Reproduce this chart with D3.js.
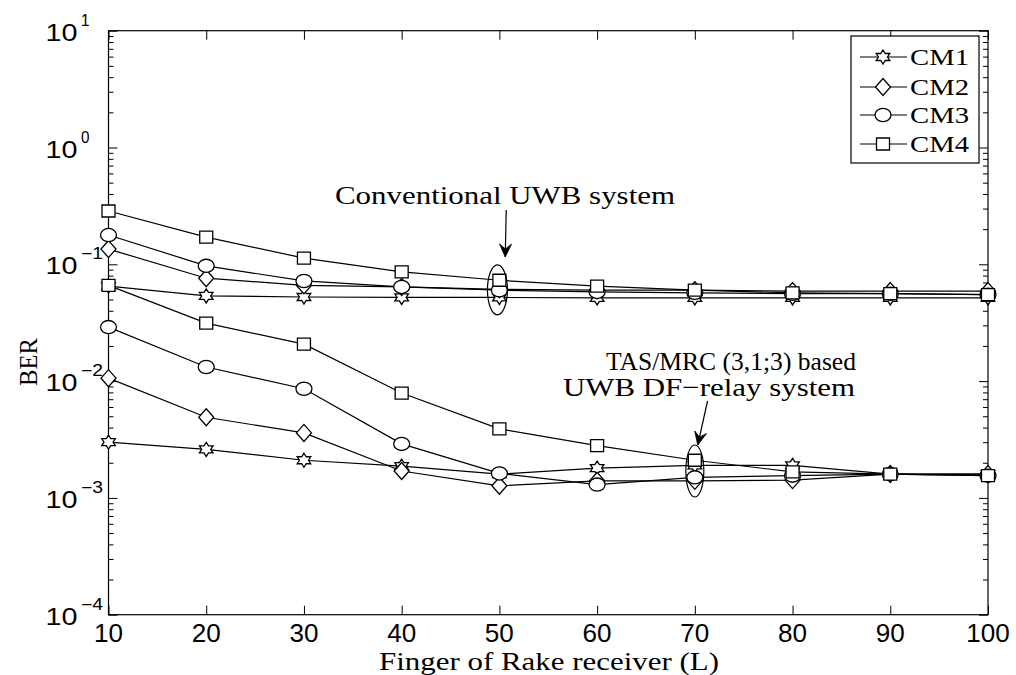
<!DOCTYPE html>
<html><head><meta charset="utf-8">
<script src="https://cdn.jsdelivr.net/npm/d3@7"></script>
<style>body{margin:0;background:#fff}</style>
</head><body>
<svg id="c" width="1016" height="675"></svg>
<script>
// ---- data ----
const fingers = [10, 20, 30, 40, 50, 60, 70, 80, 90, 100];
const seriesNames = ["CM1", "CM2", "CM3", "CM4"];
const markerKinds = ["hexagram", "diamond", "circle", "square"];
// Conventional UWB system
const convCM1 = [0.065, 0.0536, 0.0525, 0.052, 0.052, 0.0515, 0.0515, 0.0515, 0.0515, 0.0515];
const convCM2 = [0.135, 0.076, 0.066, 0.064, 0.061, 0.060, 0.060, 0.059, 0.059, 0.059];
const convCM3 = [0.178, 0.097, 0.072, 0.064, 0.060, 0.058, 0.057, 0.056, 0.056, 0.055];
const convCM4 = [0.286, 0.171, 0.113, 0.086, 0.073, 0.065, 0.060, 0.057, 0.056, 0.055];
// TAS/MRC (3,1;3) based UWB DF-relay system
const relayCM1 = [0.0030, 0.0026, 0.0021, 0.00187, 0.0016, 0.0018, 0.0019, 0.0019, 0.0016, 0.0016];
const relayCM2 = [0.0106, 0.0049, 0.0036, 0.0017, 0.00127, 0.0014, 0.0014, 0.00142, 0.0016, 0.0016];
const relayCM3 = [0.029, 0.0132, 0.0086, 0.0029, 0.00162, 0.0013, 0.0015, 0.00155, 0.0016, 0.00155];
const relayCM4 = [0.066, 0.0314, 0.0207, 0.0079, 0.0039, 0.0028, 0.0021, 0.00167, 0.0016, 0.00155];
const xTickLabels = ["10", "20", "30", "40", "50", "60", "70", "80", "90", "100"];
const yTickExponents = [1, 0, -1, -2, -3, -4];
const annotationConv = ["Conventional UWB system"];
const annotationRelay = ["TAS/MRC (3,1;3)  based", "UWB DF\u2212relay system"];
const xAxisTitle = "Finger of Rake receiver (L)";
const yAxisTitle = "BER";

// ---- layout ----
const L = 108.5, R = 988, T = 30.7, B = 614.7;
const svg = d3.select("#c");
svg.append("rect").attr("width", 1016).attr("height", 675).attr("fill", "#fff");
const x = d3.scaleLinear().domain([10, 100]).range([L, R]);
const y = d3.scaleLog().domain([1e-4, 1e1]).range([B, T]);

const series = [];
const convArr = [convCM1, convCM2, convCM3, convCM4];
const relayArr = [relayCM1, relayCM2, relayCM3, relayCM4];
seriesNames.forEach((n, i) => {
  series.push({ name: n, kind: markerKinds[i], vals: convArr[i] });
  series.push({ name: n, kind: markerKinds[i], vals: relayArr[i] });
});

// ---- axes box & ticks ----
const ax = svg.append("g");
const sans = "'Liberation Sans', Arial, Helvetica, sans-serif";
const serif = "'Liberation Serif', 'Times New Roman', serif";

const xAxisB = d3.axisBottom(x).tickValues(fingers).tickSize(-9).tickFormat("");
const xAxisT = d3.axisTop(x).tickValues(fingers).tickSize(-9).tickFormat("");
ax.append("g").attr("transform", `translate(0,${B})`).call(xAxisB);
ax.append("g").attr("transform", `translate(0,${T})`).call(xAxisT);
const majors = yTickExponents.map(e => Math.pow(10, e));
const minors = [];
for (let e = -4; e < 1; e++) for (let m = 2; m <= 9; m++) minors.push(m * Math.pow(10, e));
[[d3.axisLeft, L], [d3.axisRight, R]].forEach(([f, px]) => {
  ax.append("g").attr("transform", `translate(${px},0)`).call(f(y).tickValues(majors).tickSize(-9).tickFormat(""));
  ax.append("g").attr("transform", `translate(${px},0)`).call(f(y).tickValues(minors).tickSize(-5).tickFormat(""));
});
ax.selectAll(".domain").remove();
ax.selectAll("line").attr("stroke", "#000").attr("stroke-width", 1);
ax.append("rect").attr("x", L).attr("y", T).attr("width", R - L).attr("height", B - T)
  .attr("fill", "none").attr("stroke", "#000").attr("stroke-width", 1.2);

// x tick labels
svg.append("g").selectAll("text").data(fingers).join("text")
  .attr("x", d => x(d)).attr("y", 642).attr("text-anchor", "middle")
  .attr("font-family", sans).attr("font-size", 26)
  .attr("textLength", (d, i) => xTickLabels[i].length * 14.5).attr("lengthAdjust", "spacingAndGlyphs")
  .text((d, i) => xTickLabels[i]);

// y tick labels
const yl = svg.append("g");
yTickExponents.forEach(e => {
  const py = y(Math.pow(10, e));
  yl.append("text").attr("x", 45.5).attr("y", py + 10).attr("font-family", sans).attr("font-size", 24)
    .attr("textLength", 32).attr("lengthAdjust", "spacingAndGlyphs").text("10");
  const s = e < 0 ? "\u2212" + Math.abs(e) : String(e);
  yl.append("text").attr("x", 81).attr("y", py - 5).attr("font-family", sans).attr("font-size", 16)
    .attr("textLength", e < 0 ? 22 : 8.5).attr("lengthAdjust", "spacingAndGlyphs").text(s);
});

// axis titles
svg.append("text").attr("x", 549).attr("y", 670).attr("text-anchor", "middle")
  .attr("font-family", serif).attr("font-size", 25).attr("textLength", 340).attr("lengthAdjust", "spacingAndGlyphs")
  .text(xAxisTitle);
svg.append("text").attr("transform", "translate(37,362) rotate(-90)").attr("text-anchor", "middle")
  .attr("font-family", serif).attr("font-size", 26).attr("textLength", 48).attr("lengthAdjust", "spacingAndGlyphs")
  .text(yAxisTitle);

// ---- markers ----
function markerPath(kind) {
  if (kind === "square") return "M-6.5,-6 H6.5 V6 H-6.5 Z";
  if (kind === "diamond") return "M0,-8.5 L7.5,0 L0,8.5 L-7.5,0 Z";
  if (kind === "hexagram") {
    const Ro = 7, Ri = 7 / Math.sqrt(3), pts = [];
    for (let i = 0; i < 12; i++) {
      const a = (-90 + i * 30) * Math.PI / 180, r = i % 2 ? Ri : Ro;
      pts.push([Math.cos(a) * r * 1.12, Math.sin(a) * r]);
    }
    return "M" + pts.map(p => p[0].toFixed(2) + "," + p[1].toFixed(2)).join("L") + "Z";
  }
  return null;
}
function drawMarker(g, kind, px, py) {
  if (kind === "circle") {
    g.append("ellipse").attr("cx", px).attr("cy", py).attr("rx", 8).attr("ry", 6.6)
      .attr("fill", "#fff").attr("stroke", "#000").attr("stroke-width", 1.3);
  } else {
    g.append("path").attr("d", markerPath(kind)).attr("transform", `translate(${px},${py})`)
      .attr("fill", "#fff").attr("stroke", "#000").attr("stroke-width", 1.3).attr("stroke-linejoin", "miter");
  }
}

// ---- series ----
const line = d3.line().x((d, i) => x(fingers[i])).y(d => y(d));
const plot = svg.append("g");
series.forEach(s => {
  const g = plot.append("g");
  g.append("path").attr("d", line(s.vals)).attr("fill", "none").attr("stroke", "#000").attr("stroke-width", 1.2);
  s.vals.forEach((v, i) => drawMarker(g, s.kind, x(fingers[i]), y(v)));
});

// ---- annotations ----
function arrow(g, x1, y1, x2, y2) {
  g.append("line").attr("x1", x1).attr("y1", y1).attr("x2", x2).attr("y2", y2).attr("stroke", "#000").attr("stroke-width", 1.2);
  const a = Math.atan2(y2 - y1, x2 - x1) * 180 / Math.PI;
  g.append("path").attr("d", "M0,0 L-13,-6 L-8,0 L-13,6 Z")
    .attr("transform", `translate(${x2},${y2}) rotate(${a})`).attr("fill", "#000").attr("stroke", "#000").attr("stroke-width", 0.8);
}
const an = svg.append("g");
an.append("ellipse").attr("cx", x(49.8)).attr("cy", y(0.0604)).attr("rx", 10).attr("ry", 25)
  .attr("fill", "none").attr("stroke", "#000").attr("stroke-width", 1.2);
arrow(an, x(50.7), 210, x(50.6), 257);
an.append("text").attr("x", 335).attr("y", 204).attr("font-family", serif).attr("font-size", 26)
  .attr("textLength", 340).attr("lengthAdjust", "spacingAndGlyphs").text(annotationConv[0]);
an.append("ellipse").attr("cx", x(70)).attr("cy", y(0.0017)).attr("rx", 9).attr("ry", 26)
  .attr("fill", "none").attr("stroke", "#000").attr("stroke-width", 1.2);
arrow(an, x(71.3), 401, x(70.3), 445);
an.append("text").attr("x", 606).attr("y", 370).attr("font-family", serif).attr("font-size", 26)
  .attr("textLength", 250).attr("lengthAdjust", "spacingAndGlyphs").text(annotationRelay[0]);
an.append("text").attr("x", 563).attr("y", 396).attr("font-family", serif).attr("font-size", 26)
  .attr("textLength", 292).attr("lengthAdjust", "spacingAndGlyphs").text(annotationRelay[1]);

// ---- legend ----
const lg = svg.append("g");
lg.append("rect").attr("x", 851).attr("y", 36).attr("width", 128).attr("height", 127)
  .attr("fill", "#fff").attr("stroke", "#000").attr("stroke-width", 1.2);
const legY = [57, 87, 115, 144];
seriesNames.forEach((n, i) => {
  lg.append("line").attr("x1", 860).attr("x2", 907).attr("y1", legY[i]).attr("y2", legY[i]).attr("stroke", "#000").attr("stroke-width", 1.2);
  drawMarker(lg, markerKinds[i], 883, legY[i]);
  lg.append("text").attr("x", 910).attr("y", legY[i] + 8).attr("font-family", serif).attr("font-size", 23)
    .attr("textLength", 59).attr("lengthAdjust", "spacingAndGlyphs").text(n);
});
</script>
</body></html>
